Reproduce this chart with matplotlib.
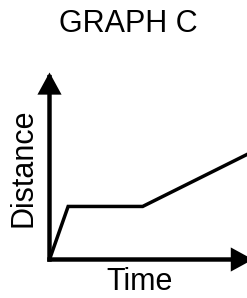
import matplotlib
matplotlib.use("Agg")
import matplotlib.pyplot as plt
from matplotlib.patches import FancyArrowPatch

# distance-time graph (arbitrary units)
time = [0, 1, 5, 11]
distance = [0, 2, 2, 4.1]

title = "GRAPH C"
xlabel = "Time"
ylabel = "Distance"

plt.rcParams['font.family'] = ['Liberation Sans', 'DejaVu Sans']

W, H = 247, 298
fig = plt.figure(figsize=(W / 100, H / 100), dpi=100)
ax = fig.add_axes([49.5 / W, 38.5 / H, 197.5 / W, 187 / H])
ax.set_xlim(0, 10.6)
ax.set_ylim(0, 7.05)
ax.axis('off')

ax.plot(time, distance, color='black', lw=2.5, solid_joinstyle='miter')

# axis arrows
for end in [(1.03, 0), (0, 1)]:
    arr = FancyArrowPatch((0, 0), end, transform=ax.transAxes,
                          arrowstyle='-|>,head_length=0.55,head_width=0.3',
                          mutation_scale=20, lw=3.2, color='black',
                          shrinkA=0, shrinkB=0, clip_on=False, joinstyle='miter',
                          capstyle='projecting')
    ax.add_patch(arr)

fig.text(128 / W, 1 - 24 / H, title, ha='center', va='center', fontsize=22)
fig.text(23 / W, 1 - 168 / H, ylabel, ha='center', va='center', rotation=90, fontsize=22)
fig.text(140 / W, 1 - 282 / H, xlabel, ha='center', va='center', fontsize=22)

fig.savefig('out.png', dpi=100)
